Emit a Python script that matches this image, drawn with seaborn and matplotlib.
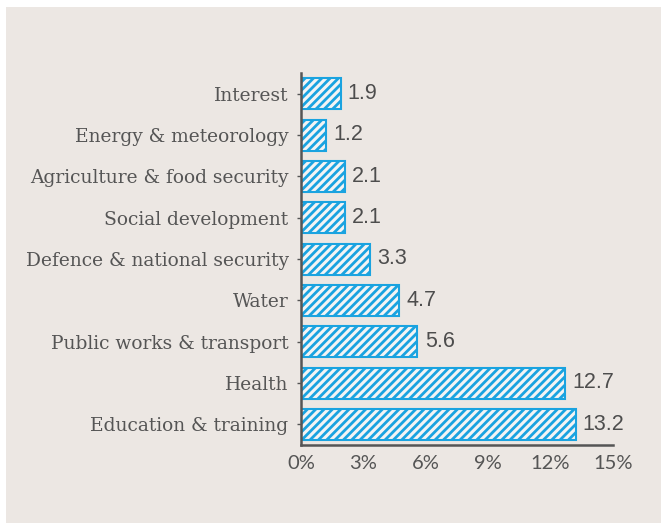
import matplotlib
matplotlib.use("Agg")
import matplotlib.pyplot as plt
import seaborn as sns
import pandas as pd
from matplotlib.patches import Rectangle

categories = ["Interest", "Energy & meteorology", "Agriculture & food security",
              "Social development", "Defence & national security", "Water",
              "Public works & transport", "Health", "Education & training"]
values = [1.9, 1.2, 2.1, 2.1, 3.3, 4.7, 5.6, 12.7, 13.2]
value_labels = ["1.9", "1.2", "2.1", "2.1", "3.3", "4.7", "5.6", "12.7", "13.2"]
xticks = [0, 3, 6, 9, 12, 15]
xtick_labels = ["0%", "3%", "6%", "9%", "12%", "15%"]

BLUE = "#1AA3E0"
BG = "#ECE7E3"
TXT = "#555555"

sns.set_theme(style="white")
plt.rcParams["hatch.color"] = BLUE
plt.rcParams["hatch.linewidth"] = 2.0

df = pd.DataFrame({"category": categories, "value": values})

fig = plt.figure(figsize=(6.62, 5.25), dpi=100, facecolor="white")
fig.patches.append(Rectangle((6 / 662, 1 - 523 / 525), 655 / 662, 516 / 525,
                             transform=fig.transFigure, facecolor=BG,
                             edgecolor="none", zorder=-10))
ax = fig.add_axes([301 / 662, 1 - 445 / 525, 312 / 662, 372 / 525])
ax.set_facecolor("none")

sns.barplot(data=df, x="value", y="category", orient="h", ax=ax,
            color="#F4F4F4", width=0.75, saturation=1)
for p in ax.patches:
    p.set_hatch("////")
    p.set_edgecolor(BLUE)
    p.set_linewidth(1.5)
    p.set_facecolor("#F4F4F4")

for i, (v, lab) in enumerate(zip(values, value_labels)):
    ax.text(v + 0.35, i, lab, va="center", ha="left", fontsize=15.5,
            color="#4d4d4d", family="Liberation Sans")

ax.set_xlim(0, 15)
ax.set_ylim(8.5, -0.5)
ax.set_xticks(xticks)
ax.set_xticklabels(xtick_labels, family="Lato", fontsize=14.5, color=TXT)
ax.set_yticks(range(len(categories)))
ax.set_yticklabels(categories, family="DejaVu Serif", fontsize=13.4, color=TXT)
ax.set_xlabel("")
ax.set_ylabel("")
for s in ["top", "right"]:
    ax.spines[s].set_visible(False)
for s in ["left", "bottom"]:
    ax.spines[s].set_color(TXT)
    ax.spines[s].set_linewidth(1.8)
ax.tick_params(axis="x", length=0, pad=7)
ax.tick_params(axis="y", length=3, width=1, color=TXT, left=True, pad=6)

fig.savefig("out.png", dpi=100, facecolor="white")
